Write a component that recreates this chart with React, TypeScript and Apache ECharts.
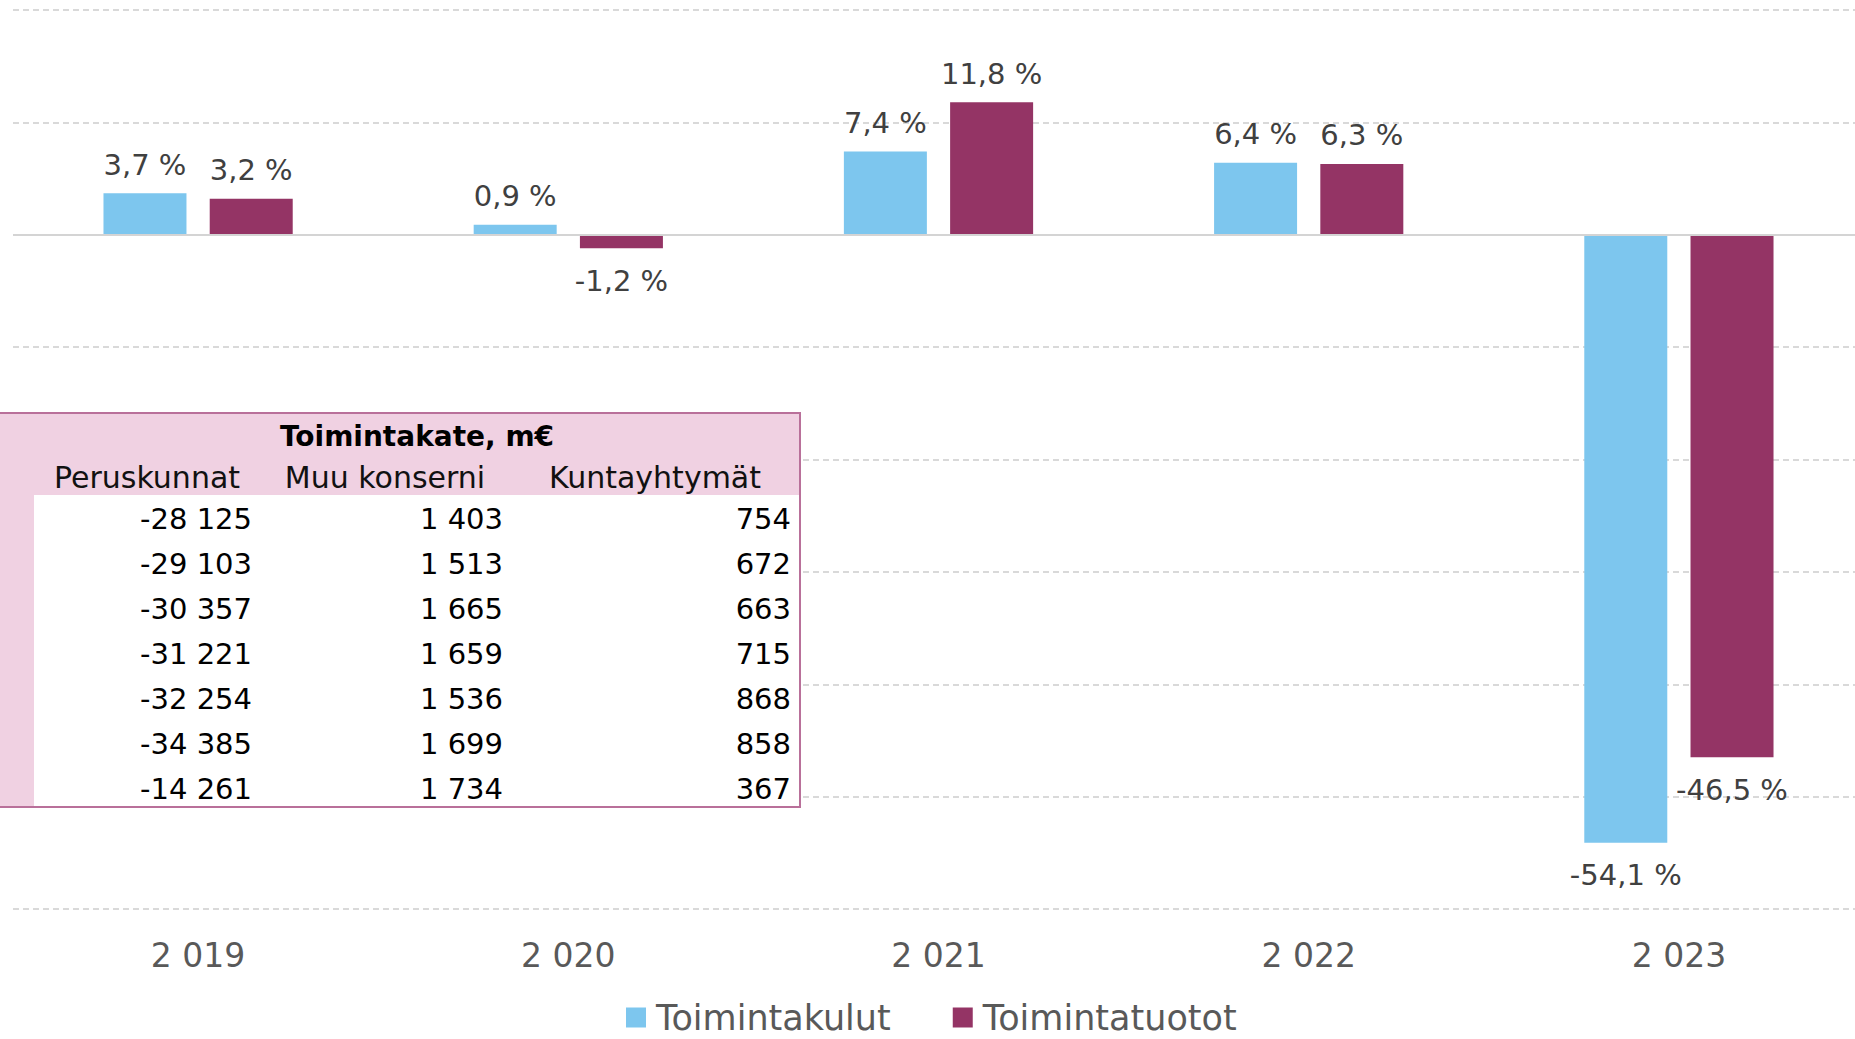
import React, { useEffect, useRef } from "react";
import * as echarts from "echarts";

const categories = ["2 019", "2 020", "2 021", "2 022", "2 023"];
const seriesNames = ["Toimintakulut", "Toimintatuotot"];
const toimintakulut = [3.7, 0.9, 7.4, 6.4, -54.1];
const toimintatuotot = [3.2, -1.2, 11.8, 6.3, -46.5];

const tableTitle = "Toimintakate, m€";
const tableHeaders = ["Peruskunnat", "Muu konserni", "Kuntayhtymät"];
const peruskunnat = [-28125, -29103, -30357, -31221, -32254, -34385, -14261];
const muuKonserni = [1403, 1513, 1665, 1659, 1536, 1699, 1734];
const kuntayhtymat = [754, 672, 663, 715, 868, 858, 367];

const FONT = "DejaVu Sans";
const COLORS = ["#7DC6EE", "#943465"];

function fmtThousands(n: number): string {
  const s = Math.abs(n)
    .toString()
    .replace(/\B(?=(\d{3})+(?!\d))/g, " ");
  return (n < 0 ? "-" : "") + s;
}

function pct(v: number): string {
  return v.toFixed(1).replace(".", ",") + " %";
}

function barData(values: number[]) {
  return values.map((v) => ({
    value: v,
    label: v < 0 ? { position: "bottom", distance: 18 } : { position: "top", distance: 14 },
  }));
}

function buildTable() {
  const els: any[] = [];
  const Z = 200;
  els.push({
    type: "rect",
    z: Z,
    shape: { x: -4, y: 413, width: 804, height: 394 },
    style: { fill: "#F0D1E2", stroke: "#B9709A", lineWidth: 2 },
  });
  els.push({
    type: "rect",
    z: Z + 1,
    shape: { x: 34, y: 495, width: 765, height: 311 },
    style: { fill: "#FFFFFF" },
  });
  els.push({
    type: "text",
    z: Z + 2,
    x: 417,
    y: 436,
    style: {
      text: tableTitle,
      fontFamily: FONT,
      fontSize: 28,
      fontWeight: "bold",
      fill: "#000000",
      align: "center",
      verticalAlign: "middle",
    },
  });
  const headerCenters = [147, 385, 655];
  tableHeaders.forEach((h, i) => {
    els.push({
      type: "text",
      z: Z + 2,
      x: headerCenters[i],
      y: 477,
      style: {
        text: h,
        fontFamily: FONT,
        fontSize: 30,
        fill: "#111111",
        align: "center",
        verticalAlign: "middle",
      },
    });
  });
  const colRights = [252, 503, 791];
  const cols = [peruskunnat, muuKonserni, kuntayhtymat];
  cols.forEach((col, ci) => {
    col.forEach((v, ri) => {
      els.push({
        type: "text",
        z: Z + 2,
        x: colRights[ci],
        y: 519 + 45 * ri,
        style: {
          text: fmtThousands(v),
          fontFamily: FONT,
          fontSize: 29,
          fill: "#000000",
          align: "right",
          verticalAlign: "middle",
        },
      });
    });
  });
  return els;
}

export default function App() {
  const ref = useRef<HTMLDivElement>(null);

  useEffect(() => {
    if (!ref.current) return;
    const chart = echarts.init(ref.current, undefined, { renderer: "svg" });
    const labelCommon = {
      show: true,
      fontFamily: FONT,
      fontSize: 29,
      color: "#404040",
      formatter: (p: any) => pct(p.value),
    };
    chart.setOption({
      animation: false,
      backgroundColor: "#ffffff",
      textStyle: { fontFamily: FONT },
      grid: { left: 13, top: 10, width: 1851, height: 899, containLabel: false },
      xAxis: {
        type: "category",
        data: categories,
        axisLine: { show: false, onZero: false },
        axisTick: { show: false },
        axisLabel: {
          margin: 30,
          fontFamily: FONT,
          fontSize: 33,
          color: "#595959",
        },
      },
      yAxis: {
        type: "value",
        min: -60,
        max: 20,
        interval: 10,
        axisLabel: { show: false },
        axisLine: { show: false },
        axisTick: { show: false },
        splitLine: {
          show: true,
          lineStyle: { color: "#D9D9D9", width: 2, type: [6, 4] },
        },
      },
      legend: {
        data: seriesNames,
        left: 621,
        top: 995,
        icon: "rect",
        itemWidth: 20,
        itemHeight: 20,
        itemGap: 62,
        textStyle: {
          fontFamily: FONT,
          fontSize: 35,
          lineHeight: 35,
          color: "#595959",
          padding: [0, 0, 0, 5],
        },
      },
      series: [
        {
          name: seriesNames[0],
          type: "bar",
          data: barData(toimintakulut),
          barWidth: 83,
          barGap: "28%",
          itemStyle: { color: COLORS[0] },
          label: labelCommon,
          markLine: {
            silent: true,
            symbol: "none",
            label: { show: false },
            lineStyle: { color: "#D4D4D4", width: 2, type: "solid" },
            data: [{ yAxis: 0 }],
          },
        },
        {
          name: seriesNames[1],
          type: "bar",
          data: barData(toimintatuotot),
          barWidth: 83,
          barGap: "28%",
          itemStyle: { color: COLORS[1] },
          label: labelCommon,
        },
      ],
      graphic: buildTable(),
    });
    return () => chart.dispose();
  }, []);

  return (
    <div style={{ position: "fixed", left: 0, top: 0, width: 1855, height: 1039, overflow: "hidden" }}>
      <div ref={ref} style={{ position: "absolute", left: 0, top: 0, width: 1870, height: 1039 }} />
    </div>
  );
}
